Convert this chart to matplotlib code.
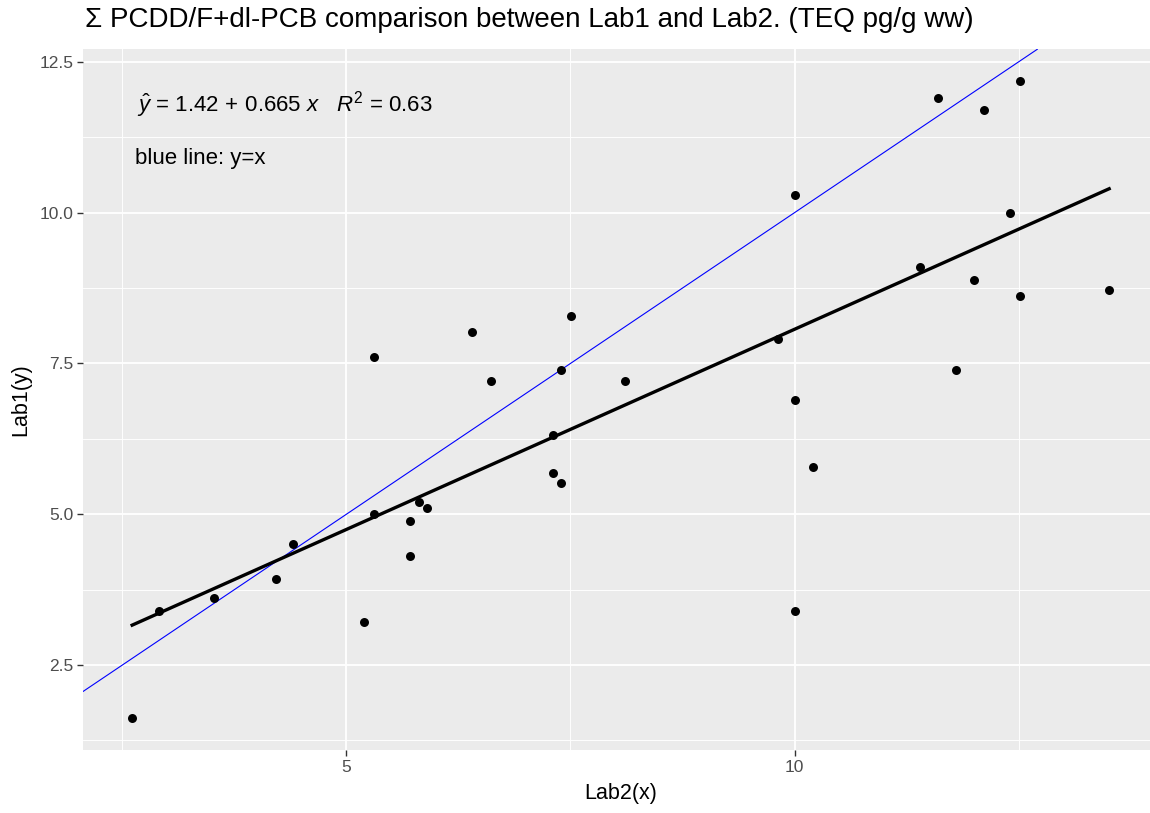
import numpy as np
import matplotlib
matplotlib.use("Agg")
import matplotlib.pyplot as plt
from matplotlib.ticker import FixedLocator, FixedFormatter

# Data
lab2_x = [2.61, 2.91, 3.52, 4.21, 4.41, 5.20, 5.31, 5.71, 5.71, 5.81, 5.90,
          5.31, 6.40, 6.61, 7.51, 7.40, 8.11, 7.30, 7.30, 7.40,
          10.00, 11.60, 12.11, 12.51, 12.40, 11.40, 12.00, 12.51, 13.51,
          9.81, 10.00, 10.21, 10.00, 11.80]
lab1_y = [1.62, 3.40, 3.61, 3.92, 4.51, 3.22, 5.00, 4.89, 4.30, 5.21, 5.10,
          7.60, 8.02, 7.21, 8.29, 7.39, 7.21, 6.31, 5.69, 5.52,
          10.30, 11.90, 11.70, 12.18, 10.00, 9.10, 8.89, 8.61, 8.71,
          7.90, 6.90, 5.79, 3.40, 7.39]

title = "\u03a3 PCDD/F+dl-PCB comparison between Lab1 and Lab2. (TEQ pg/g ww)"
eq_text = r"$\hat{y}$ = 1.42$\,+\,$0.665 $x$   $R^2$ = 0.63"
note_text = "blue line: y=x"
x_major = [5, 10]
x_major_labels = ["5", "10"]
x_minor = [2.5, 7.5, 12.5]
y_major = [2.5, 5.0, 7.5, 10.0, 12.5]
y_major_labels = ["2.5", "5.0", "7.5", "10.0", "12.5"]
y_minor = [1.25, 3.75, 6.25, 8.75, 11.25]

plt.rcParams['font.family'] = ['Liberation Sans', 'DejaVu Sans']
plt.rcParams['mathtext.fontset'] = 'custom'
plt.rcParams['mathtext.rm'] = 'Liberation Sans'
plt.rcParams['mathtext.it'] = 'Liberation Sans:italic'

W, H = 1150, 813
fig = plt.figure(figsize=(W / 100, H / 100), dpi=100)
left, right, top, bottom = 83.3, 1158, 49.3, 750
ax = fig.add_axes([left / W, 1 - bottom / H, (right - left) / W, (bottom - top) / H])
ax.set_facecolor('#EBEBEB')
for s in ax.spines.values():
    s.set_visible(False)

x = np.array(lab2_x)
y = np.array(lab1_y)
xr = x.max() - x.min()
yr = y.max() - y.min()
ax.set_xlim(x.min() - 0.05 * xr, x.max() + 0.05 * xr)
ax.set_ylim(y.min() - 0.05 * yr, y.max() + 0.05 * yr)

ax.xaxis.set_major_locator(FixedLocator(x_major))
ax.xaxis.set_major_formatter(FixedFormatter(x_major_labels))
ax.xaxis.set_minor_locator(FixedLocator(x_minor))
ax.yaxis.set_major_locator(FixedLocator(y_major))
ax.yaxis.set_major_formatter(FixedFormatter(y_major_labels))
ax.yaxis.set_minor_locator(FixedLocator(y_minor))
ax.grid(which='major', color='white', linewidth=1.3)
ax.grid(which='minor', color='white', linewidth=0.65)
ax.set_axisbelow(True)
ax.tick_params(which='major', length=4, width=1, color='#333333',
               labelcolor='#4D4D4D', labelsize=12.5, pad=3)
ax.tick_params(which='minor', length=0)

# y = x
ax.axline((0, 0), slope=1, color='blue', linewidth=0.8, zorder=2)
# linear fit
b, a = np.polyfit(x, y, 1)
xs = np.linspace(x.min(), x.max(), 80)
ax.plot(xs, a + b * xs, color='black', linewidth=2.4, zorder=3)
ax.scatter(x, y, s=42, color='black', zorder=4, linewidths=0)

fig.text(137 / W, 1 - 111.7 / H, eq_text, fontsize=16, ha='left', va='baseline')
fig.text(135 / W, 1 - 164 / H, note_text, fontsize=16, ha='left', va='baseline')

fig.text(85 / W, 1 - 27 / H, title, fontsize=20, ha='left', va='baseline')
ax.set_xlabel("Lab2(x)", fontsize=15.5, color='black', labelpad=6)
ax.set_ylabel("Lab1(y)", fontsize=15.5, color='black', labelpad=6)

fig.savefig("out.png", dpi=100)
